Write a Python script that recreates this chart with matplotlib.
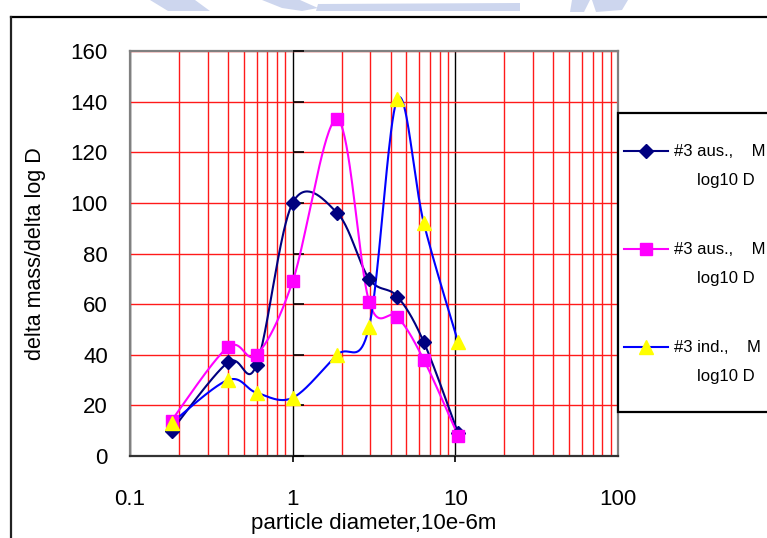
import numpy as np
import matplotlib
matplotlib.use("Agg")
import matplotlib.pyplot as plt
from matplotlib.lines import Line2D
from matplotlib.patches import Rectangle, Polygon
from matplotlib.ticker import LogLocator, NullFormatter, FixedLocator, FixedFormatter

plt.rcParams['font.family'] = ['Liberation Sans', 'DejaVu Sans']

# particle diameters (10e-6 m) and mass distributions
diameters = [0.18, 0.4, 0.6, 1.0, 1.88, 2.95, 4.4, 6.4, 10.4]
aus_a = [10, 37, 36, 100, 96, 70, 63, 45, 9]
aus_b = [14, 43, 40, 69, 133, 61, 55, 38, 8]
ind_c = [13, 30, 25, 23, 40, 51, 141, 92, 45]

series_first = ["#3 aus.,    M", "#3 aus.,    M", "#3 ind.,    M"]
series_second = ["log10 D", "log10 D", "log10 D"]

x_ticks = [0.1, 1, 10, 100]
x_tick_labels = ["0.1", "1", "10", "100"]
y_ticks = [0, 20, 40, 60, 80, 100, 120, 140, 160]

W, H = 767, 538
fig = plt.figure(figsize=(W / 100, H / 100), dpi=100)
fig.patch.set_facecolor("white")

# faint watermark fragments along the top edge
wm = "#cdd6ee"
for poly in [
    [(150, 0), (195, 0), (210, 11), (168, 11)],
    [(262, 0), (300, 0), (318, 8), (302, 11), (282, 8)],
    [(318, 4), (520, 3), (520, 11), (316, 11)],
    [(572, 0), (590, 0), (584, 12), (570, 12)],
    [(592, 0), (628, 0), (622, 10), (596, 12)],
]:
    fig.patches.append(Polygon([(x / W, 1 - y / H) for x, y in poly], closed=True,
                               transform=fig.transFigure, facecolor=wm, edgecolor="none",
                               zorder=0))

# outer chart frame (top and left edges visible)
fig.lines.append(Line2D([11 / W, 1.0], [1 - 17 / H, 1 - 17 / H], transform=fig.transFigure,
                        color="black", lw=1.6))
fig.lines.append(Line2D([11 / W, 11 / W], [0, 1 - 17 / H], transform=fig.transFigure,
                        color="#222222", lw=1.6))

L, R, T, B = 130, 618, 51, 456
ax = fig.add_axes([L / W, 1 - B / H, (R - L) / W, (B - T) / H])
ax.set_xscale("log")
ax.set_xlim(x_ticks[0], x_ticks[-1])
ax.set_ylim(y_ticks[0], y_ticks[-1])

# grid: red minors, red horizontal majors, black decade lines
ax.xaxis.set_major_locator(FixedLocator(x_ticks))
ax.xaxis.set_major_formatter(FixedFormatter(x_tick_labels))
ax.xaxis.set_minor_locator(LogLocator(base=10, subs=np.arange(2, 10)))
ax.xaxis.set_minor_formatter(NullFormatter())
ax.set_yticks(y_ticks)
ax.grid(True, which="minor", axis="x", color="#ff1a1a", lw=1.0)
ax.grid(True, which="major", axis="x", color="black", lw=1.0)
ax.grid(True, which="major", axis="y", color="#ff1a1a", lw=1.0)
ax.set_axisbelow(True)

for s in ax.spines.values():
    s.set_color("#808080")
    s.set_linewidth(1.6)
ax.spines["bottom"].set_color("#333333")

ax.tick_params(axis="both", which="both", length=0)
ax.tick_params(axis="y", pad=16, labelsize=16)
ax.tick_params(axis="x", pad=24, labelsize=16)

# value-axis ticks on the x=1 crossing, category ticks under the decade lines
ax.plot([x_ticks[1]] * len(y_ticks), y_ticks, ls="none", marker=1, ms=8, mew=1.2,
        color="black", clip_on=False, zorder=3)
ax.plot(x_ticks[1:3], [y_ticks[0]] * 2, ls="none", marker=3, ms=4, mew=1.2,
        color="black", clip_on=False, zorder=3)

ax.set_xlabel("particle diameter,10e-6m", fontsize=16, labelpad=2)
ax.set_ylabel("delta mass/delta log D", fontsize=15.5, labelpad=18)

# smoothed curves: cubic Bezier through each point, built in display proportions
px_dec = (R - L) / 3.0
px_unit = (B - T) / 160.0


def smooth(xs, ys, n=40):
    u = np.log10(np.asarray(xs, float)) * px_dec
    v = np.asarray(ys, float) * px_unit
    P = np.column_stack([u, v])
    out = [P[0]]
    m = len(P)
    t = np.linspace(0, 1, n)[1:, None]
    for i in range(m - 1):
        p0 = P[max(i - 1, 0)]
        p1 = P[i]
        p2 = P[i + 1]
        p3 = P[min(i + 2, m - 1)]
        c1 = p1 + (p2 - p0) / 6.0
        c2 = p2 - (p3 - p1) / 6.0
        seg = ((1 - t) ** 3) * p1 + 3 * ((1 - t) ** 2) * t * c1 + 3 * (1 - t) * t ** 2 * c2 + t ** 3 * p2
        out.extend(seg)
    out = np.array(out)
    return 10 ** (out[:, 0] / px_dec), out[:, 1] / px_unit


styles = [
    dict(line="#000080", marker="D", mfc="#000080", mec="#000080", ms=7.5),
    dict(line="#ff00ff", marker="s", mfc="#ff00ff", mec="#ff00ff", ms=8),
    dict(line="#0000ff", marker="^", mfc="#ffff00", mec="#ffff00", ms=9.5),
]
for ys, st in zip([aus_a, aus_b, ind_c], styles):
    sx, sy = smooth(diameters, ys)
    ax.plot(sx, sy, color=st["line"], lw=1.5, zorder=4, clip_on=False)
    ax.plot(diameters, ys, ls="none", marker=st["marker"], ms=st["ms"], mfc=st["mfc"],
            mec=st["mec"], zorder=5, clip_on=False)

# legend box on the right
fig.patches.append(Rectangle((618 / W, 1 - 412 / H), 0.4, (412 - 113) / H, transform=fig.transFigure,
                             facecolor="white", edgecolor="black", lw=1.6, zorder=2))
rows = [151, 249, 347]
for row, st, t1, t2 in zip(rows, styles, series_first, series_second):
    yf = 1 - row / H
    fig.lines.append(Line2D([624 / W, 668 / W], [yf, yf], transform=fig.transFigure,
                            color=st["line"], lw=1.5, zorder=3))
    fig.lines.append(Line2D([646 / W], [yf], transform=fig.transFigure, ls="none",
                            marker=st["marker"], ms=st["ms"], mfc=st["mfc"], mec=st["mec"], zorder=4))
    fig.text(674 / W, yf, t1, fontsize=12, va="center", ha="left", zorder=4)
    fig.text(697 / W, 1 - (row + 29) / H, t2, fontsize=12, va="center", ha="left", zorder=4)

fig.savefig("out.png", dpi=100, facecolor="white")
